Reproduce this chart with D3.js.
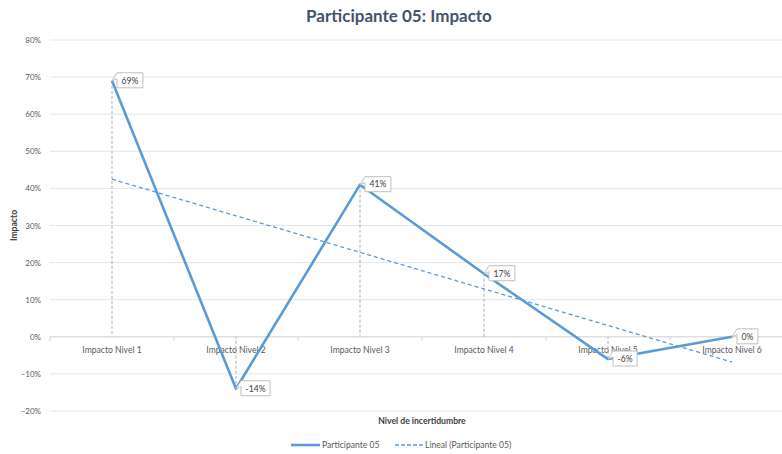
<!DOCTYPE html>
<html><head><meta charset="utf-8">
<script src="https://cdn.jsdelivr.net/npm/d3@7"></script>
<style>body{margin:0;background:#fff}svg{display:block;font-family:Lato,"Open Sans",sans-serif}</style>
</head><body><svg id="c" width="782" height="454"></svg>
<script>
const categories = ["Impacto Nivel 1","Impacto Nivel 2","Impacto Nivel 3","Impacto Nivel 4","Impacto Nivel 5","Impacto Nivel 6"];
const values = [0.69,-0.14,0.41,0.17,-0.06,0.00];
const labels = ["69%","-14%","41%","17%","-6%","0%"];
const yTicks = [-0.2,-0.1,0,0.1,0.2,0.3,0.4,0.5,0.6,0.7,0.8];
const seriesName = "Participante 05";
const trendName = "Lineal (Participante 05)";
const title = "Participante 05: Impacto";

const svg = d3.select("#c");
const pL = 50, pR = 794, pT = 40, pB = 411;
const x = d3.scaleBand().domain(categories).range([pL,pR]);
const y = d3.scaleLinear().domain([-0.2,0.8]).range([pB,pT]);
const cx = d => x(d)+x.bandwidth()/2;

// gridlines
svg.append("g").selectAll("line").data(yTicks).join("line")
  .attr("x1",pL).attr("x2",pR).attr("y1",d=>y(d)).attr("y2",d=>y(d))
  .attr("stroke",d=>d===0?"#D0D0D0":"#E3E6EA").attr("stroke-width",1);
// y tick labels
svg.append("g").selectAll("text").data(yTicks).join("text")
  .attr("x",41).attr("y",d=>y(d)+3).attr("text-anchor","end")
  .attr("font-size",8).attr("fill","#595959").text(d3.format(".0%"));
// category tick marks on zero line
const bounds = categories.map(c=>x(c)).concat([pR]);
svg.append("g").selectAll("line").data(bounds).join("line")
  .attr("x1",d=>d).attr("x2",d=>d).attr("y1",y(0)).attr("y2",y(0)+4)
  .attr("stroke","#D0D0D0");
// category labels
svg.append("g").selectAll("text").data(categories).join("text")
  .attr("x",d=>cx(d)).attr("y",y(0)+16).attr("text-anchor","middle")
  .attr("font-size",8.6).attr("fill","#595959").text(d=>d);

// drop lines
svg.append("g").selectAll("line").data(values).join("line")
  .attr("x1",(d,i)=>cx(categories[i])).attr("x2",(d,i)=>cx(categories[i]))
  .attr("y1",d=>y(d)).attr("y2",y(0))
  .attr("stroke","#A6AEBB").attr("stroke-width",1).attr("stroke-dasharray","3,2");

// trend line (least squares)
const n = values.length, xs = d3.range(1,n+1);
const mx = d3.mean(xs), my = d3.mean(values);
const slope = d3.sum(xs,(v,i)=>(v-mx)*(values[i]-my))/d3.sum(xs,v=>(v-mx)*(v-mx));
const icpt = my - slope*mx;
const trend = xs.map(v=>icpt+slope*v);
svg.append("path").datum(trend)
  .attr("d",d3.line().x((d,i)=>cx(categories[i])).y(d=>y(d)))
  .attr("fill","none").attr("stroke","#5B9BD5").attr("stroke-width",1.3).attr("stroke-dasharray","4,3");

// main line
svg.append("path").datum(values)
  .attr("d",d3.line().x((d,i)=>cx(categories[i])).y(d=>y(d)))
  .attr("fill","none").attr("stroke","#5B9BD5").attr("stroke-width",2.6).attr("stroke-linejoin","round");

// data labels (callouts)
const lg = svg.append("g");
values.forEach((v,i)=>{
  const px = cx(categories[i]), py = y(v);
  const t = lg.append("text").attr("font-size",8.6).attr("fill","#404040").text(labels[i]);
  const w = t.node().getComputedTextLength()+9, h = 15;
  const bx = px+5, by = py-8;
  lg.insert("path","text").attr("d",
    `M${px},${py} L${bx},${by} L${bx+w},${by} L${bx+w},${by+h} L${bx},${by+h} L${bx},${by+6} Z`)
    .attr("fill","#fff").attr("stroke","#BFBFBF").attr("stroke-width",1);
  t.attr("x",bx+4.5).attr("y",by+10.8);
});

// title
svg.append("text").attr("x",399).attr("y",22).attr("text-anchor","middle")
  .attr("font-size",17).attr("font-weight","bold").attr("fill","#44546A").text(title);
// axis titles
svg.append("text").attr("transform",`translate(17,${(pT+pB)/2}) rotate(-90)`)
  .attr("text-anchor","middle").attr("font-size",8.6).attr("font-weight","bold").attr("fill","#404040").text("Impacto");
svg.append("text").attr("x",(pL+pR)/2).attr("y",424).attr("text-anchor","middle")
  .attr("font-size",8.6).attr("font-weight","bold").attr("fill","#404040").text("Nivel de incertidumbre");

// legend
const leg = svg.append("g");
leg.append("line").attr("x1",291).attr("x2",320).attr("y1",445).attr("y2",445).attr("stroke","#5B9BD5").attr("stroke-width",2.6);
leg.append("text").attr("x",322).attr("y",448).attr("font-size",8.6).attr("fill","#595959").text(seriesName);
leg.append("line").attr("x1",395).attr("x2",423).attr("y1",445).attr("y2",445).attr("stroke","#5B9BD5").attr("stroke-width",1.3).attr("stroke-dasharray","4,2");
leg.append("text").attr("x",425).attr("y",448).attr("font-size",8.6).attr("fill","#595959").text(trendName);
</script></body></html>
